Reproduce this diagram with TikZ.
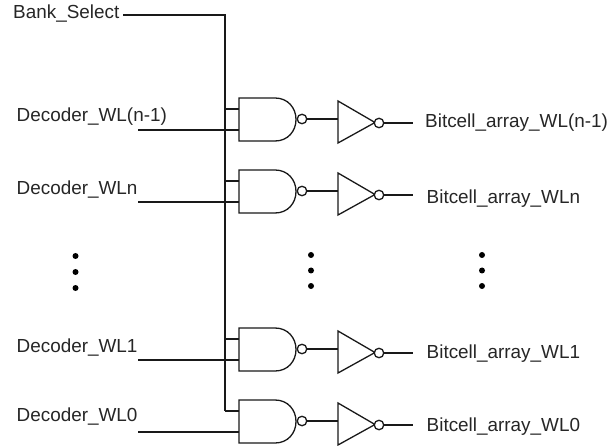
\documentclass[tikz,border=0pt]{standalone}
\usepackage{fontspec}
\setmainfont{Liberation Sans}
\tikzset{
  x=1pt,y=-1pt,
  wire/.style={line width=1.3pt,black!90},
  lbl/.style={inner sep=0pt,anchor=base west,font=\fontsize{18.9}{22}\selectfont,text=black!85},
  dotmark/.style={circle,fill=black,inner sep=0pt,minimum size=6pt},
  bubble/.style={circle,draw,line width=1.3pt,black!90,fill=white,inner sep=0pt,minimum size=9.5pt}
}
\newcommand{\gatestage}[2]{% id, y offset
  \begin{scope}[yshift=-#2 pt]
    \coordinate (g#1ia) at (239,109);
    \coordinate (g#1ib) at (239,130);
    \coordinate (g#1in) at (138,130);
    \coordinate (g#1bus) at (225,109);
    \draw[wire,line join=miter] (239,98) -- (275,98) .. controls (288,98) and (296,108) .. (296,119.5) .. controls (296,131) and (288,141) .. (275,141) -- (239,141) -- cycle;
    \node[bubble] (g#1o) at (302,119) {};
    \coordinate (t#1i) at (338,119);
    \draw[wire,line join=miter] (338,101) -- (375,122.5) -- (338,143) -- cycle;
    \node[bubble] (t#1o) at (379,123) {};
    \coordinate (o#1) at (413,123);
    \draw[wire] (g#1o) -- (t#1i);
    \draw[wire] (t#1o) -- (o#1);
    \draw[wire] (g#1bus) -- (g#1ia);
    \draw[wire] (g#1in) -- (g#1ib);
  \end{scope}
}
\begin{document}
\begin{tikzpicture}
\useasboundingbox (0,0) rectangle (610,446);
\gatestage{a}{0}
\gatestage{b}{72}
\gatestage{c}{230}
\gatestage{d}{302}
\node[lbl] (ola) at (425,127.5) {Bitcell\_array\_WL(n-1)};
\node[lbl] (olb) at (426.5,204) {Bitcell\_array\_WLn};
\node[lbl] (olc) at (426.5,358) {Bitcell\_array\_WL1};
\node[lbl] (old) at (426.5,431) {Bitcell\_array\_WL0};
\node[lbl] (bs) at (13,18.3) {Bank\_Select};
\coordinate (corner) at (225,15);
\coordinate (bsend) at (123,15);
\draw[wire] (bsend) -- (corner) -- (gdbus);
\node[lbl] (da) at (16.5,122) {Decoder\_WL(n-1)};
\node[lbl] (db) at (16.5,194.3) {Decoder\_WLn};
\node[lbl] (dc) at (16.5,352.7) {Decoder\_WL1};
\node[lbl] (dd) at (16.5,421.7) {Decoder\_WL0};
\foreach \n/\x/\a/\b/\c in {l/75.5/256/272/288,m/311/255/270.5/286,r/482/255/270.5/286}{
  \node[dotmark] (\n1) at (\x,\a) {};
  \node[dotmark] (\n2) at (\x,\b) {};
  \node[dotmark] (\n3) at (\x,\c) {};
}
\end{tikzpicture}
\end{document}
